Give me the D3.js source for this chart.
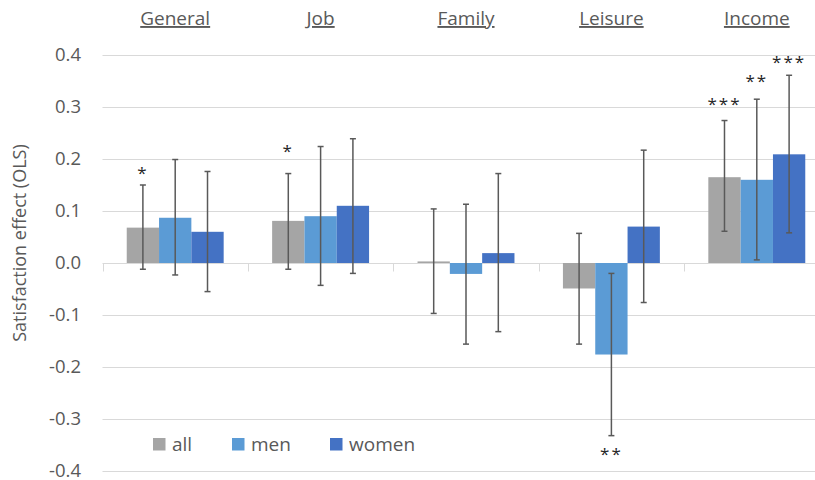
<!DOCTYPE html>
<html>
<head>
<meta charset="utf-8">
<script src="https://cdn.jsdelivr.net/npm/d3@7"></script>
<style>
  body { margin: 0; background: #fff; }
  svg { display: block; font-family: 'Open Sans', 'Noto Sans', sans-serif; }
</style>
</head>
<body>
<svg id="chart"></svg>
<script>
const categories = ['General', 'Job', 'Family', 'Leisure', 'Income']
const series = ['all', 'men', 'women']
const colors = ['#a5a5a5', '#5b9bd5', '#4472c4']

// estimates per series, one value per category
const allValues = [0.068, 0.081, 0.003, -0.049, 0.165]
const menValues = [0.087, 0.090, -0.021, -0.176, 0.160]
const womenValues = [0.060, 0.110, 0.019, 0.070, 0.209]

// confidence interval bounds
const allLow = [-0.012, -0.012, -0.097, -0.156, 0.061]
const allHigh = [0.150, 0.172, 0.104, 0.057, 0.274]
const menLow = [-0.023, -0.043, -0.156, -0.332, 0.006]
const menHigh = [0.199, 0.224, 0.113, -0.020, 0.315]
const womenLow = [-0.055, -0.020, -0.132, -0.076, 0.058]
const womenHigh = [0.176, 0.239, 0.172, 0.217, 0.361]

// significance marks: [category, series, label, position on value axis]
const stars = [
  ['General', 'all', '*', 0.179],
  ['Job', 'all', '*', 0.221],
  ['Leisure', 'men', '**', -0.361],
  ['Income', 'all', '***', 0.311],
  ['Income', 'men', '**', 0.356],
  ['Income', 'women', '***', 0.392]
]

const yTicks = [-0.4, -0.3, -0.2, -0.1, 0.0, 0.1, 0.2, 0.3, 0.4]

const width = 815
const height = 480
const margin = { top: 55, left: 102.5, bottom: 9 }

const svg = d3.select('#chart')
  .attr('width', width)
  .attr('height', height)

const x = d3.scaleBand()
  .domain(categories)
  .range([margin.left, margin.left + 145.4 * categories.length])

const xs = d3.scaleBand()
  .domain(series)
  .range([0, x.bandwidth()])
  .paddingOuter(0.75)

const y = d3.scaleLinear()
  .domain([-0.4, 0.4])
  .range([height - margin.bottom, margin.top])

const values = [allValues, menValues, womenValues]
const lows = [allLow, menLow, womenLow]
const highs = [allHigh, menHigh, womenHigh]

const rows = []
categories.forEach((c, i) => {
  series.forEach((s, j) => {
    rows.push({ cat: c, ser: s, color: colors[j], v: values[j][i], lo: lows[j][i], hi: highs[j][i] })
  })
})

// gridlines
svg.append('g')
  .selectAll('line')
  .data(yTicks)
  .enter()
  .append('line')
  .attr('x1', margin.left)
  .attr('x2', width)
  .attr('y1', d => Math.round(y(d)) + 0.5)
  .attr('y2', d => Math.round(y(d)) + 0.5)
  .attr('stroke', '#d9d9d9')
  .attr('stroke-width', 1)

// tick marks on zero line between categories
const zeroY = Math.round(y(0)) + 0.5
svg.append('g')
  .selectAll('line')
  .data(categories)
  .enter()
  .append('line')
  .attr('x1', d => Math.round(x(d)) + 0.5)
  .attr('x2', d => Math.round(x(d)) + 0.5)
  .attr('y1', zeroY)
  .attr('y2', zeroY + 8)
  .attr('stroke', '#d9d9d9')

// y labels
svg.append('g')
  .selectAll('text')
  .data(yTicks)
  .enter()
  .append('text')
  .attr('x', 81)
  .attr('y', d => y(d))
  .attr('dy', '0.35em')
  .attr('text-anchor', 'end')
  .attr('font-size', '18.5px')
  .attr('fill', '#595959')
  .text(d => d3.format('.1f')(d).replace('−', '-'))

svg.append('text')
  .attr('transform', `translate(26, 243) rotate(-90)`)
  .attr('text-anchor', 'middle')
  .attr('font-size', '18px')
  .attr('fill', '#595959')
  .text('Satisfaction effect (OLS)')

// category titles
svg.append('g')
  .selectAll('text')
  .data(categories)
  .enter()
  .append('text')
  .attr('x', d => x(d) + x.bandwidth() / 2)
  .attr('y', 25)
  .attr('text-anchor', 'middle')
  .attr('font-size', '19px')
  .attr('fill', '#595959')
  .attr('text-decoration', 'underline')
  .text(d => d)

// bars
svg.append('g')
  .selectAll('rect')
  .data(rows)
  .enter()
  .append('rect')
  .attr('x', d => x(d.cat) + xs(d.ser))
  .attr('width', xs.bandwidth())
  .attr('y', d => y(Math.max(0, d.v)))
  .attr('height', d => Math.max(1, Math.abs(y(d.v) - y(0))))
  .attr('fill', d => d.color)

// error bars
const err = svg.append('g')
  .attr('stroke', '#595959')
  .attr('stroke-width', 1.5)
  .selectAll('g')
  .data(rows)
  .enter()
  .append('g')
  .attr('transform', d => `translate(${x(d.cat) + xs(d.ser) + xs.bandwidth() / 2},0)`)

err.append('line')
  .attr('y1', d => y(d.lo))
  .attr('y2', d => y(d.hi))

err.append('line')
  .attr('x1', -3).attr('x2', 3)
  .attr('y1', d => y(d.hi)).attr('y2', d => y(d.hi))

err.append('line')
  .attr('x1', -3).attr('x2', 3)
  .attr('y1', d => y(d.lo)).attr('y2', d => y(d.lo))

// significance stars
svg.append('g')
  .selectAll('text')
  .data(stars)
  .enter()
  .append('text')
  .attr('x', d => x(d[0]) + xs(d[1]) + xs.bandwidth() / 2)
  .attr('y', d => y(d[3]) + 9)
  .attr('text-anchor', 'middle')
  .attr('font-size', '17px')
  .attr('letter-spacing', '2px')
  .attr('fill', '#262626')
  .text(d => d[2])

// legend
const legend = svg.append('g')
  .selectAll('g')
  .data(series)
  .enter()
  .append('g')
  .attr('transform', (d, i) => `translate(${[153, 232, 330][i]}, 438)`)

legend.append('rect')
  .attr('width', 12.5)
  .attr('height', 12.5)
  .attr('fill', (d, i) => colors[i])

legend.append('text')
  .attr('x', 19)
  .attr('y', 12.5)
  .attr('font-size', '19px')
  .attr('fill', '#595959')
  .text(d => d)
</script>
</body>
</html>
